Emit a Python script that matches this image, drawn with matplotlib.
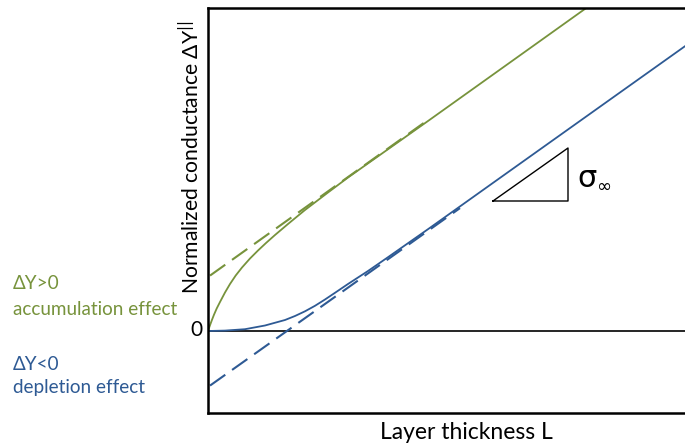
import matplotlib
matplotlib.use("Agg")
import matplotlib.pyplot as plt

# ---- data (arbitrary units read from the schematic) ----
green_x = [0.0, 0.02, 0.04, 0.06, 0.087, 0.12, 0.17, 0.22, 0.277, 0.34, 0.42,
           0.50, 0.58, 0.67, 0.80, 0.97, 1.20, 1.40, 2.20, 3.00, 3.84]
green_y = [0.0, 0.058, 0.112, 0.163, 0.225, 0.29, 0.385, 0.47, 0.555, 0.635, 0.725,
           0.805, 0.88, 0.96, 1.07, 1.21, 1.385, 1.535, 2.10, 2.671, 3.271]

blue_x = [0.0, 0.17, 0.37, 0.57, 0.77, 0.87, 0.97, 1.07, 1.17, 1.27, 1.40,
          1.60, 1.80, 2.20, 3.00, 4.00, 4.77]
blue_y = [0.0, 0.004, 0.018, 0.055, 0.11, 0.15, 0.197, 0.252, 0.315, 0.382, 0.47,
          0.60, 0.738, 1.018, 1.588, 2.30, 2.848]

green_dash_x = [0.02, 2.22]
green_dash_y = [0.554, 2.125]

blue_dash_x = [0.02, 2.52]
blue_dash_y = [-0.546, 1.229]

tri_x = [2.85, 3.60, 3.60, 2.85]
tri_y = [1.30, 1.83, 1.30, 1.30]

GREEN = "#77933C"
BLUE = "#2E5A94"
FONT = "Lato"

W, H = 685, 448
fig = plt.figure(figsize=(W / 100, H / 100), dpi=100)
ax = fig.add_axes([208 / W, (H - 413) / H, 1 - 208 / W, (413 - 8) / H])
ax.set_xlim(0, 4.77)
ax.set_ylim(-0.82, 3.23)
ax.set_xticks([])
ax.set_yticks([])
for s in ["left", "bottom", "top"]:
    ax.spines[s].set_linewidth(1.8)
    ax.spines[s].set_color("black")
ax.spines["right"].set_visible(False)

ax.axhline(0, color="black", lw=1.2)

ax.plot(green_x, green_y, color=GREEN, lw=1.3, solid_joinstyle="round")
ax.plot(blue_x, blue_y, color=BLUE, lw=1.3, solid_joinstyle="round")
ax.plot(green_dash_x, green_dash_y, color=GREEN, lw=1.5, dashes=(9, 4))
ax.plot(blue_dash_x, blue_dash_y, color=BLUE, lw=1.5, dashes=(9, 4))
ax.plot(tri_x, tri_y, color="black", lw=1.0)


def ft(px, py, s, **kw):
    fig.text(px / W, 1 - py / H, s, **kw)


ft(577, 178, "σ", fontsize=22, family="DejaVu Sans", ha="left", va="center")
ft(596, 187, "∞", fontsize=13, family="DejaVu Sans", ha="left", va="center")

ft(466, 432, "Layer thickness L", fontsize=16.5, family=FONT, ha="center", va="center")
ft(191, 157, "Normalized conductance ΔY$^{||}$", fontsize=15.2, family=FONT,
   rotation=90, ha="center", va="center")
ft(196, 330, "0", fontsize=15, family=FONT, ha="center", va="center")

ft(13, 283, "ΔY>0", fontsize=13.6, family=FONT, color=GREEN, ha="left", va="center")
ft(13, 309, "accumulation effect", fontsize=13.6, family=FONT, color=GREEN, ha="left", va="center")
ft(13, 364, "ΔY<0", fontsize=13.6, family=FONT, color=BLUE, ha="left", va="center")
ft(13, 387, "depletion effect", fontsize=13.6, family=FONT, color=BLUE, ha="left", va="center")

fig.savefig("out.png", dpi=100)
